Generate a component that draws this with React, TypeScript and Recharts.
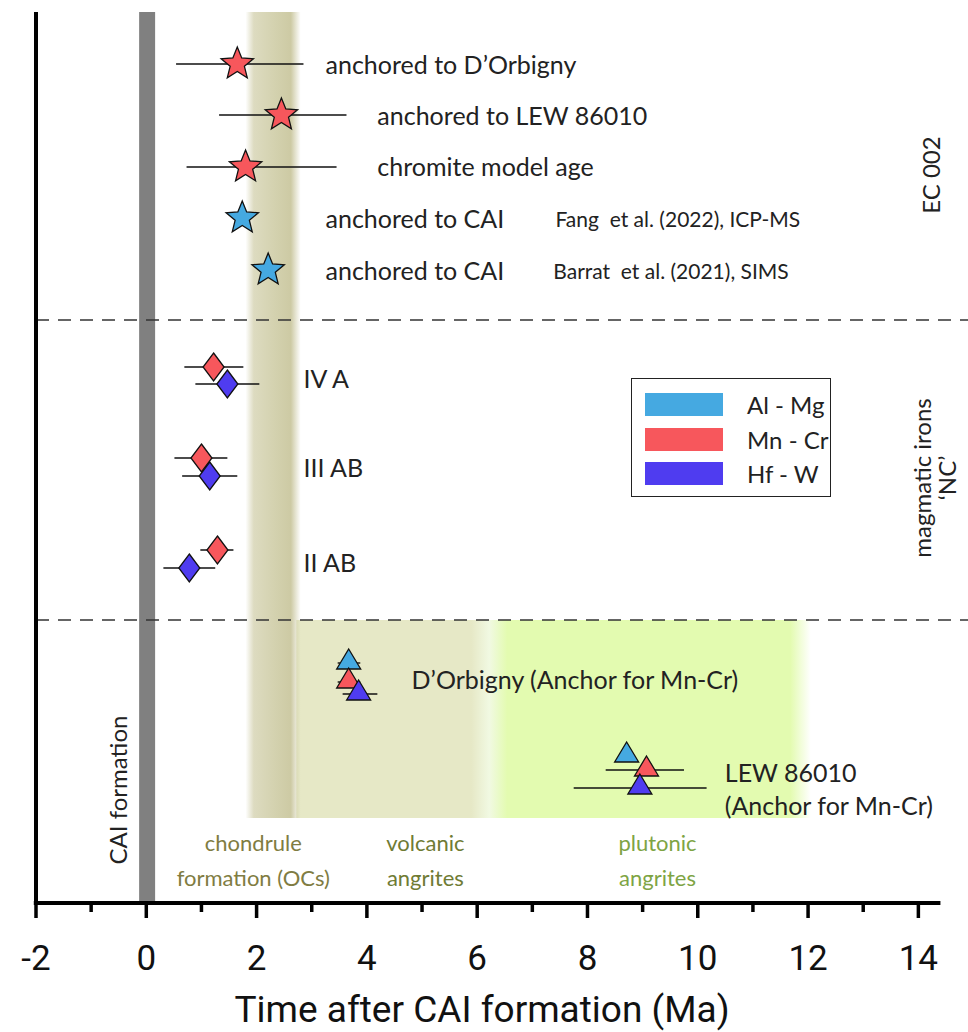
import React from "react"
import {
  ScatterChart,
  Scatter,
  XAxis,
  YAxis,
  ErrorBar,
  ReferenceArea,
  ReferenceLine,
  Legend,
} from "recharts"

// isotope systems, legend order
const systems = ["Al - Mg", "Mn - Cr", "Hf - W"]
const systemColors = ["#45a9e1", "#f7575c", "#4f3cf0"]

// y is a row position (0 = time axis, 89.1 = top of the frame)
// lo / hi are the ends of the age uncertainty (Ma), omitted when none is drawn
const alMg = [
  { x: 1.74, y: 68.5, mark: "star" },
  { x: 2.21, y: 63.3, mark: "star" },
  { x: 3.67, y: 24.0, lo: 3.47, hi: 3.88, mark: "tri" },
  { x: 8.71, y: 14.7, mark: "tri" },
]

const mnCr = [
  { x: 1.65, y: 83.9, lo: 0.54, hi: 2.85, mark: "star" },
  { x: 2.45, y: 78.8, lo: 1.32, hi: 3.63, mark: "star" },
  { x: 1.8, y: 73.6, lo: 0.73, hi: 3.45, mark: "star" },
  { x: 1.22, y: 53.6, lo: 0.69, hi: 1.76, mark: "diamond" },
  { x: 1.0, y: 44.5, lo: 0.51, hi: 1.47, mark: "diamond" },
  { x: 1.29, y: 35.3, lo: 0.98, hi: 1.58, mark: "diamond" },
  { x: 3.67, y: 22.1, lo: 3.47, hi: 3.88, mark: "tri" },
  { x: 9.07, y: 13.3, lo: 8.33, hi: 9.75, mark: "tri" },
]

const hfW = [
  { x: 1.47, y: 51.9, lo: 0.89, hi: 2.05, mark: "diamond" },
  { x: 1.15, y: 42.7, lo: 0.65, hi: 1.65, mark: "diamond" },
  { x: 0.78, y: 33.5, lo: 0.31, hi: 1.25, mark: "diamond" },
  { x: 3.85, y: 20.9, lo: 3.56, hi: 4.19, mark: "tri" },
  { x: 8.95, y: 11.5, lo: 7.75, hi: 10.16, mark: "tri" },
]

const seriesData = [alMg, mnCr, hfW]

const sampleNotes = [
  { x: 3.25, y: 83.9, text: "anchored to D’Orbigny" },
  { x: 4.19, y: 78.8, text: "anchored to LEW 86010" },
  { x: 4.19, y: 73.7, text: "chromite model age" },
  { x: 3.25, y: 68.5, text: "anchored to CAI" },
  { x: 3.25, y: 63.3, text: "anchored to CAI" },
  { x: 2.85, y: 52.5, text: "IV A" },
  { x: 2.85, y: 43.6, text: "III AB" },
  { x: 2.85, y: 34.1, text: "II AB" },
  { x: 4.81, y: 22.4, text: "D’Orbigny (Anchor for Mn-Cr)" },
  { x: 10.49, y: 13.1, text: "LEW 86010" },
  { x: 10.49, y: 9.8, text: "(Anchor for Mn-Cr)" },
]

const refNotes = [
  { x: 7.42, y: 68.5, text: "Fang  et al. (2022), ICP-MS" },
  { x: 7.38, y: 63.3, text: "Barrat  et al. (2021), SIMS" },
]

const periodNotes = [
  { x: 1.94, y: 6.1, text: "chondrule", group: 0 },
  { x: 1.94, y: 2.6, text: "formation (OCs)", group: 0 },
  { x: 5.06, y: 6.1, text: "volcanic", group: 1 },
  { x: 5.06, y: 2.6, text: "angrites", group: 1 },
  { x: 9.27, y: 6.1, text: "plutonic", group: 2 },
  { x: 9.27, y: 2.6, text: "angrites", group: 2 },
]
const periodColors = ["#807c42", "#6f7b34", "#7ea444"]

const sideNotes = [
  { x: -0.53, y: 11.3, text: "CAI formation" },
  { x: 14.22, y: 72.8, text: "EC 002" },
  { x: 14.06, y: 42.5, text: "magmatic irons" },
  { x: 14.51, y: 42.5, text: "‘NC’" },
]

const xTicks = [-2, -1, 0, 1, 2, 3, 4, 5, 6, 7, 8, 9, 10, 11, 12, 13, 14]

const withErr = (rows) =>
  rows.map((r) => ({
    ...r,
    err: r.lo === undefined ? undefined : [r.x - r.lo, r.hi - r.x],
  }))

function markerPath(mark, cx, cy) {
  if (mark === "star") {
    const pts = []
    for (let i = 0; i < 10; i++) {
      const a = ((-90 + i * 36) * Math.PI) / 180
      const rad = i % 2 === 0 ? 17 : 7.5
      pts.push(`${cx + rad * Math.cos(a)},${cy + rad * Math.sin(a)}`)
    }
    return `M${pts.join("L")}Z`
  }
  if (mark === "diamond") {
    return `M${cx},${cy - 14}L${cx + 10.5},${cy}L${cx},${cy + 14}L${cx - 10.5},${cy}Z`
  }
  return `M${cx},${cy - 14}L${cx + 12},${cy + 6}L${cx - 12},${cy + 6}Z`
}

const makeMarker = (color) => (props) => {
  const { cx, cy, payload } = props
  if (cx == null || cy == null) return null
  return (
    <path
      d={markerPath(payload.mark, cx, cy)}
      fill={color}
      stroke="#111"
      strokeWidth={1.3}
      strokeLinejoin="miter"
    />
  )
}

const makeNote = (style) => (props) => {
  const { cx, cy, payload } = props
  if (cx == null || cy == null) return null
  return (
    <text x={cx} y={cy} dominantBaseline="central" style={{ whiteSpace: "pre" }} {...style}>
      {payload.text}
    </text>
  )
}

const PeriodNote = (props) => {
  const { cx, cy, payload } = props
  if (cx == null || cy == null) return null
  return (
    <text
      x={cx}
      y={cy}
      dominantBaseline="central"
      textAnchor="middle"
      fontFamily="Lato"
      fontSize={22}
      fill={periodColors[payload.group]}
    >
      {payload.text}
    </text>
  )
}

const SideNote = (props) => {
  const { cx, cy, payload } = props
  if (cx == null || cy == null) return null
  return (
    <text
      x={cx}
      y={cy}
      transform={`rotate(-90 ${cx} ${cy})`}
      dominantBaseline="central"
      textAnchor="middle"
      fontFamily="Lato"
      fontSize={24}
      fill="#222"
    >
      {payload.text}
    </text>
  )
}

const AxisTick = (props) => {
  const { x, y, payload } = props
  const major = payload.value % 2 === 0
  return (
    <g>
      <line x1={x} x2={x} y1={y} y2={y + (major ? 15 : 9)} stroke="#000" strokeWidth={3.5} />
      {major && (
        <text x={x} y={y + 67} textAnchor="middle" fontFamily="Roboto" fontSize={35} fill="#111">
          {payload.value}
        </text>
      )}
    </g>
  )
}

const LegendBox = () => (
  <div
    style={{
      width: 198,
      height: 117,
      border: "1.5px solid #222",
      background: "#fff",
      boxSizing: "content-box",
      position: "relative",
      fontFamily: "Lato",
    }}
  >
    {systems.map((s, i) => (
      <div key={s} style={{ position: "absolute", left: 13, top: 14 + i * 34.5, display: "flex", alignItems: "center" }}>
        <div style={{ width: 78, height: 23, background: systemColors[i] }} />
        <span style={{ marginLeft: 24, fontSize: 24, color: "#222", lineHeight: "23px", whiteSpace: "nowrap" }}>{s}</span>
      </div>
    ))}
  </div>
)

export default function App() {
  const marked = seriesData.map(withErr)
  return (
    <div style={{ position: "absolute", left: 0, top: 0, width: 968, height: 1032, background: "#fff" }}>
      <ScatterChart width={968} height={1032} margin={{ top: 12, right: 0, left: 36, bottom: 0 }}>
        <defs>
          <linearGradient id="chondruleBand" x1="0" x2="1" y1="0" y2="0">
            <stop offset="0%" stopColor="#dcdabf" stopOpacity={0} />
            <stop offset="15%" stopColor="#dddbc0" stopOpacity={1} />
            <stop offset="55%" stopColor="#d3d1ae" stopOpacity={1} />
            <stop offset="82%" stopColor="#cdcaa4" stopOpacity={1} />
            <stop offset="100%" stopColor="#cdcaa4" stopOpacity={0} />
          </linearGradient>
          <linearGradient id="angriteBand" x1="0" x2="1" y1="0" y2="0">
            <stop offset="0%" stopColor="#e6e8c6" />
            <stop offset="34%" stopColor="#e6e8c6" />
            <stop offset="37.5%" stopColor="#f1f9e2" />
            <stop offset="41%" stopColor="#e3fbb0" />
            <stop offset="96%" stopColor="#e3fbb0" />
            <stop offset="100%" stopColor="#ffffff" />
          </linearGradient>
        </defs>

        <XAxis
          type="number"
          dataKey="x"
          domain={[-2, 14.9]}
          allowDataOverflow
          ticks={xTicks}
          interval={0}
          tickSize={0}
          tickMargin={0}
          tickLine={false}
          axisLine={false}
          tick={<AxisTick />}
          height={129}
          label={({ viewBox }) => (
            <text
              x={viewBox.x + 446}
              y={viewBox.y + viewBox.height - 10}
              textAnchor="middle"
              fontFamily="Roboto"
              fontSize={37}
              fill="#111"
            >
              Time after CAI formation (Ma)
            </text>
          )}
        />
        <YAxis type="number" dataKey="y" domain={[0, 89.1]} allowDataOverflow hide />

        <ReferenceArea x1={2.72} x2={12.05} y1={8.5} y2={28.3} fill="url(#angriteBand)" fillOpacity={1} stroke="none" ifOverflow="visible" />
        <ReferenceArea x1={1.8} x2={2.8} y1={8.5} y2={89.1} fill="url(#chondruleBand)" fillOpacity={1} stroke="none" ifOverflow="visible" />
        <ReferenceArea x1={-0.13} x2={0.16} y1={0} y2={89.1} fill="#808080" fillOpacity={1} stroke="none" ifOverflow="visible" />

        <ReferenceLine y={58.3} stroke="#333" strokeWidth={1.5} strokeDasharray="13 9" ifOverflow="visible" />
        <ReferenceLine y={28.3} stroke="#333" strokeWidth={1.5} strokeDasharray="13 9" ifOverflow="visible" />
        <ReferenceLine x={-2} stroke="#000" strokeWidth={4} ifOverflow="visible" />
        <ReferenceLine
          segment={[{ x: -2.04, y: 0 }, { x: 14.4, y: 0 }]}
          stroke="#000"
          strokeWidth={4}
          ifOverflow="visible"
        />

        {marked.map((rows, i) => (
          <Scatter
            key={systems[i]}
            name={systems[i]}
            data={rows}
            fill={systemColors[i]}
            shape={makeMarker(systemColors[i])}
            isAnimationActive={false}
          >
            <ErrorBar dataKey="err" direction="x" width={0} stroke="#111" strokeWidth={1.4} />
          </Scatter>
        ))}

        <Scatter
          data={sampleNotes}
          legendType="none"
          shape={makeNote({ fontFamily: "Lato", fontSize: 25, fill: "#222" })}
          isAnimationActive={false}
        />
        <Scatter
          data={refNotes}
          legendType="none"
          shape={makeNote({ fontFamily: "Lato", fontSize: 21, fill: "#222" })}
          isAnimationActive={false}
        />
        <Scatter data={periodNotes} legendType="none" shape={<PeriodNote />} isAnimationActive={false} />
        <Scatter data={sideNotes} legendType="none" shape={<SideNote />} isAnimationActive={false} />

        <Legend
          layout="horizontal"
          verticalAlign="middle"
          align="center"
          content={() => <LegendBox />}
          wrapperStyle={{ left: 631, top: 378, bottom: "auto", width: "auto" }}
        />
      </ScatterChart>
    </div>
  )
}
